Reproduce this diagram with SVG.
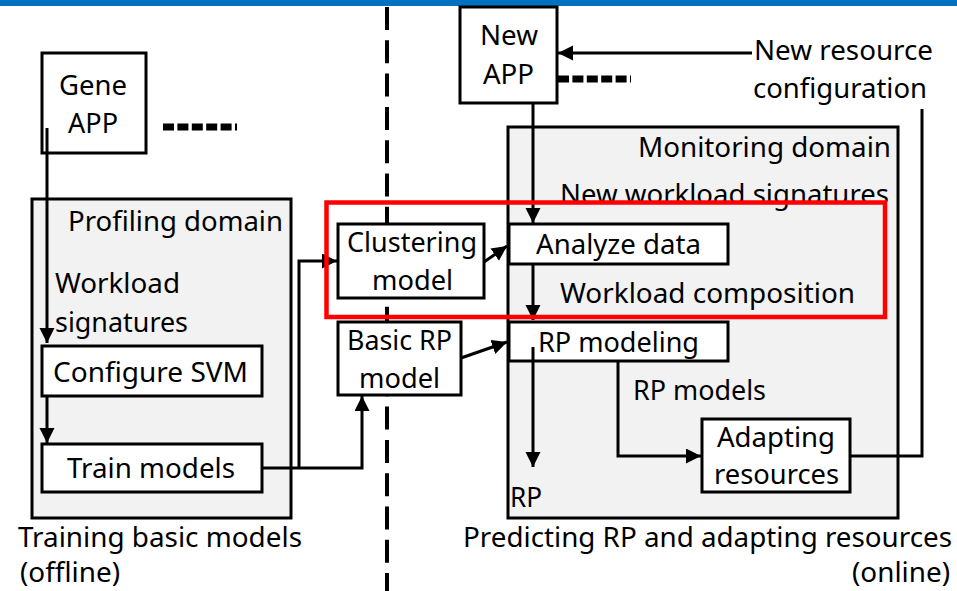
<svg xmlns="http://www.w3.org/2000/svg" width="957" height="591" viewBox="0 0 957 591">
<style>
text{font-family:"Noto Sans","Open Sans","Liberation Sans",sans-serif;font-size:28px;fill:#000}
.box{fill:#fff;stroke:#000;stroke-width:3}
.dom{fill:#f2f2f2;stroke:#000;stroke-width:3}
.ln{fill:none;stroke:#000;stroke-width:3}
.dots{fill:none;stroke:#000;stroke-width:7;stroke-dasharray:11 3.4}
</style>
<defs>
<marker id="ah" markerUnits="userSpaceOnUse" markerWidth="16" markerHeight="16" refX="15" refY="7.5" orient="auto">
<path d="M0,0 L15,7.5 L0,15 z" fill="#000"/>
</marker>
</defs>
<rect x="0" y="0" width="957" height="6" fill="#0070C0"/>
<line x1="387" y1="7" x2="387" y2="591" stroke="#000" stroke-width="4" stroke-dasharray="23 10.3"/>

<g id="profiling-domain">
<rect class="dom" x="32" y="199" width="259" height="319"/>
<text x="68" y="231" textLength="215" lengthAdjust="spacingAndGlyphs">Profiling domain</text>
<text x="55" y="293" textLength="125" lengthAdjust="spacingAndGlyphs">Workload</text>
<text x="55" y="332" textLength="133" lengthAdjust="spacingAndGlyphs">signatures</text>
</g>
<g id="monitoring-domain">
<rect class="dom" x="508" y="127" width="390" height="391"/>
<text x="638" y="157" textLength="253" lengthAdjust="spacingAndGlyphs">Monitoring domain</text>
<text x="560" y="204" textLength="329" lengthAdjust="spacingAndGlyphs">New workload signatures</text>
<text x="560" y="303" textLength="295" lengthAdjust="spacingAndGlyphs">Workload composition</text>
<text x="633" y="400" textLength="133" lengthAdjust="spacingAndGlyphs">RP models</text>
<text x="510" y="507" textLength="32" lengthAdjust="spacingAndGlyphs">RP</text>
</g>

<g id="gene-app">
<rect class="box" x="42" y="53" width="104" height="100"/>
<text x="59" y="95" textLength="68" lengthAdjust="spacingAndGlyphs">Gene</text>
<text x="68" y="133" textLength="50" lengthAdjust="spacingAndGlyphs">APP</text>
<line class="dots" x1="163" y1="127" x2="237" y2="127"/>
</g>
<g id="new-app">
<rect class="box" x="460" y="7" width="97" height="96"/>
<text x="480" y="45" textLength="58" lengthAdjust="spacingAndGlyphs">New</text>
<text x="483" y="84" textLength="51" lengthAdjust="spacingAndGlyphs">APP</text>
<line class="dots" x1="558" y1="79" x2="631" y2="79"/>
</g>
<g id="new-resource-configuration">
<text x="754" y="60" textLength="179" lengthAdjust="spacingAndGlyphs">New resource</text>
<text x="753" y="98" textLength="174" lengthAdjust="spacingAndGlyphs">configuration</text>
</g>
<g id="configure-svm">
<rect class="box" x="42" y="346" width="220" height="50"/>
<text x="53" y="382" textLength="195" lengthAdjust="spacingAndGlyphs">Configure SVM</text>
</g>
<g id="train-models">
<rect class="box" x="42" y="444" width="220" height="48"/>
<text x="67" y="478" textLength="168" lengthAdjust="spacingAndGlyphs">Train models</text>
</g>
<g id="clustering-model">
<rect class="box" x="338" y="224" width="146" height="74"/>
<text x="347" y="252" textLength="130" lengthAdjust="spacingAndGlyphs">Clustering</text>
<text x="372" y="290" textLength="81" lengthAdjust="spacingAndGlyphs">model</text>
</g>
<g id="basic-rp-model">
<rect class="box" x="338" y="322" width="123" height="73"/>
<text x="347" y="350" textLength="105" lengthAdjust="spacingAndGlyphs">Basic RP</text>
<text x="359" y="388" textLength="81" lengthAdjust="spacingAndGlyphs">model</text>
</g>
<g id="analyze-data">
<rect class="box" x="509" y="224" width="219" height="40"/>
<text x="536" y="254" textLength="165" lengthAdjust="spacingAndGlyphs">Analyze data</text>
</g>
<g id="rp-modeling">
<rect class="box" x="509" y="322" width="219" height="39"/>
<text x="538" y="352" textLength="161" lengthAdjust="spacingAndGlyphs">RP modeling</text>
</g>
<g id="adapting-resources">
<rect class="box" x="702" y="419" width="148" height="73"/>
<text x="717" y="447" textLength="118" lengthAdjust="spacingAndGlyphs">Adapting</text>
<text x="714" y="484" textLength="125" lengthAdjust="spacingAndGlyphs">resources</text>
</g>

<g id="connectors">
<polyline class="ln" points="47,128 47,343" marker-end="url(#ah)"/>
<polyline class="ln" points="47,396 47,443" marker-end="url(#ah)"/>
<polyline class="ln" points="262,468 362,468 362,396" marker-end="url(#ah)"/>
<polyline class="ln" points="299,468 299,261 337,261" marker-end="url(#ah)"/>
<line class="ln" x1="484" y1="262" x2="507" y2="246" marker-end="url(#ah)"/>
<line class="ln" x1="461" y1="358" x2="507" y2="342" marker-end="url(#ah)"/>
<line class="ln" x1="752" y1="53" x2="558" y2="53" marker-end="url(#ah)"/>
<line class="ln" x1="533" y1="103" x2="533" y2="223" marker-end="url(#ah)"/>
<line class="ln" x1="533" y1="264" x2="533" y2="320" marker-end="url(#ah)"/>
<line class="ln" x1="533" y1="347" x2="533" y2="467" marker-end="url(#ah)"/>
<polyline class="ln" points="618,361 618,456 701,456" marker-end="url(#ah)"/>
<polyline class="ln" points="850,456 922,456 922,109"/>
</g>

<g id="captions">
<text x="18" y="547" textLength="284" lengthAdjust="spacingAndGlyphs">Training basic models</text>
<text x="20" y="582" textLength="100" lengthAdjust="spacingAndGlyphs">(offline)</text>
<text x="463" y="547" textLength="489" lengthAdjust="spacingAndGlyphs">Predicting RP and adapting resources</text>
<text x="852" y="582" textLength="98" lengthAdjust="spacingAndGlyphs">(online)</text>
</g>

<rect x="326.5" y="202.5" width="558.5" height="114.5" fill="none" stroke="#ff0000" stroke-width="4.5"/>
</svg>
